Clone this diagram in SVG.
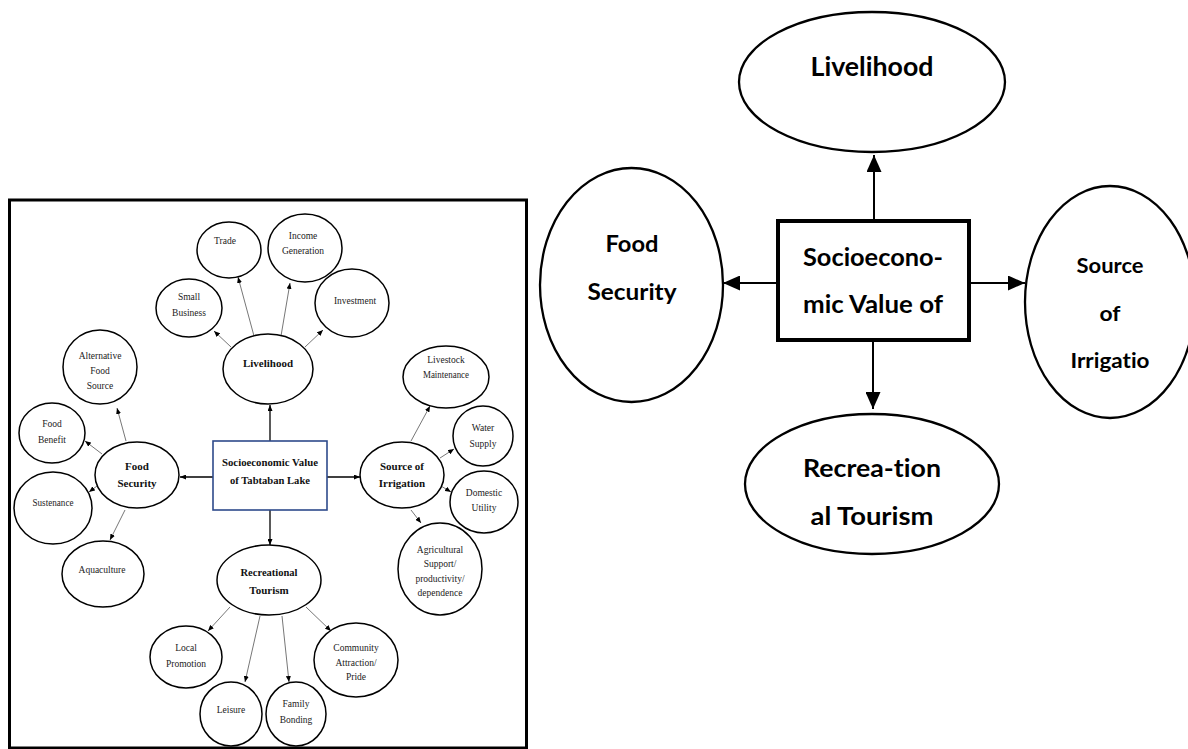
<svg xmlns="http://www.w3.org/2000/svg" width="1188" height="749" viewBox="0 0 1188 749">
<defs>
<style>
.frame{fill:none;stroke:#000;stroke-width:3}
.sn{fill:#fff;stroke:#000;stroke-width:1.5}
.cbox{fill:#fff;stroke:#2E4A8B;stroke-width:1.6}
.t{font-family:"Liberation Serif","Times New Roman",serif;font-size:9.5px;fill:#222;text-anchor:middle}
.tb{font-family:"Liberation Serif","Times New Roman",serif;font-size:11px;font-weight:bold;fill:#111;text-anchor:middle}
.ml{stroke:#000;stroke-width:1.3;fill:none}
.sl{stroke:#777;stroke-width:1;fill:none}
.gl{stroke:#bbb;stroke-width:1.5;fill:none}
.bn{fill:#fff;stroke:#000;stroke-width:2.3}
.bbox{fill:#fff;stroke:#000;stroke-width:4}
.bt{font-family:Lato,"Open Sans","Liberation Sans",sans-serif;font-weight:bold;fill:#000;text-anchor:middle;font-variant-ligatures:none;font-feature-settings:"liga" 0,"dlig" 0}
.bl{stroke:#000;stroke-width:2;fill:none}
</style>
<marker id="ah" markerUnits="userSpaceOnUse" markerWidth="6" markerHeight="5" refX="6" refY="2.5" orient="auto"><path d="M0,0 L6,2.5 L0,5 z" fill="#000"/></marker>
<marker id="AH" markerUnits="userSpaceOnUse" markerWidth="17" markerHeight="15" refX="17" refY="7.5" orient="auto"><path d="M0,0 L17,7.5 L0,15 z" fill="#000"/></marker>
</defs>
<rect width="1188" height="749" fill="#fff"/>

<!-- LEFT DIAGRAM -->
<rect class="frame" x="9.5" y="200" width="517" height="548"/>

<g id="left-connectors">
<line class="ml" x1="270" y1="441" x2="270" y2="405" marker-end="url(#ah)"/>
<line class="ml" x1="213" y1="477" x2="180" y2="477" marker-end="url(#ah)"/>
<line class="ml" x1="327" y1="477" x2="360" y2="477" marker-end="url(#ah)"/>
<line class="ml" x1="270" y1="510" x2="270" y2="545" marker-end="url(#ah)"/>
<line class="sl" x1="231" y1="347" x2="214" y2="331" marker-end="url(#ah)"/>
<line class="sl" x1="254" y1="336" x2="238" y2="277" marker-end="url(#ah)"/>
<line class="sl" x1="281" y1="336" x2="290" y2="283" marker-end="url(#ah)"/>
<line class="sl" x1="305" y1="347" x2="323" y2="330" marker-end="url(#ah)"/>
<line class="sl" x1="126" y1="441" x2="117" y2="408" marker-end="url(#ah)"/>
<line class="sl" x1="102" y1="454" x2="85" y2="441" marker-end="url(#ah)"/>
<line class="sl" x1="97" y1="486" x2="89" y2="492" marker-end="url(#ah)"/>
<line class="sl" x1="125" y1="510" x2="110" y2="540" marker-end="url(#ah)"/>
<line class="sl" x1="411" y1="441" x2="430" y2="406" marker-end="url(#ah)"/>
<line class="sl" x1="440" y1="458" x2="454" y2="449" marker-end="url(#ah)"/>
<line class="sl" x1="441" y1="486" x2="451" y2="492" marker-end="url(#ah)"/>
<line class="sl" x1="411" y1="510" x2="421" y2="523" marker-end="url(#ah)"/>
<line class="sl" x1="230" y1="607" x2="208" y2="631" marker-end="url(#ah)"/>
<line class="sl" x1="260" y1="616" x2="245" y2="682" marker-end="url(#ah)"/>
<line class="sl" x1="282" y1="616" x2="289" y2="682" marker-end="url(#ah)"/>
<line class="sl" x1="306" y1="607" x2="331" y2="631" marker-end="url(#ah)"/>
<line class="gl" x1="94" y1="542" x2="94" y2="558"/>
</g>

<g id="l-central"><rect class="cbox" x="213" y="441" width="114" height="69"/>
<text class="tb" x="270" y="466" textLength="96" lengthAdjust="spacingAndGlyphs">Socioeconomic Value</text>
<text class="tb" x="270" y="484" textLength="80" lengthAdjust="spacingAndGlyphs">of Tabtaban Lake</text></g>

<g id="l-livelihood"><ellipse class="sn" cx="268" cy="369" rx="45" ry="35"/><text class="tb" x="268" y="367" textLength="50" lengthAdjust="spacingAndGlyphs">Livelihood</text></g>
<g id="l-trade"><ellipse class="sn" cx="229" cy="250" rx="32" ry="28"/><text class="t" x="225" y="244">Trade</text></g>
<g id="l-income"><ellipse class="sn" cx="305" cy="248" rx="37" ry="34"/><text class="t" x="303" y="239">Income</text><text class="t" x="303" y="254">Generation</text></g>
<g id="l-investment"><ellipse class="sn" cx="352" cy="303" rx="37" ry="34"/><text class="t" x="355" y="304">Investment</text></g>
<g id="l-small"><ellipse class="sn" cx="189" cy="308" rx="33" ry="29"/><text class="t" x="189" y="300">Small</text><text class="t" x="189" y="316">Business</text></g>

<g id="l-food"><ellipse class="sn" cx="137" cy="475" rx="42" ry="33"/><text class="tb" x="137" y="470">Food</text><text class="tb" x="137" y="487">Security</text></g>
<g id="l-alt"><ellipse class="sn" cx="100" cy="367" rx="37" ry="37"/><text class="t" x="100" y="359">Alternative</text><text class="t" x="100" y="374">Food</text><text class="t" x="100" y="389">Source</text></g>
<g id="l-benefit"><ellipse class="sn" cx="52" cy="433" rx="33" ry="30"/><text class="t" x="52" y="427">Food</text><text class="t" x="52" y="443">Benefit</text></g>
<g id="l-sustenance"><ellipse class="sn" cx="53" cy="508" rx="39" ry="36"/><text class="t" x="53" y="506" textLength="41" lengthAdjust="spacingAndGlyphs">Sustenance</text></g>
<g id="l-aquaculture"><ellipse class="sn" cx="103" cy="574" rx="41" ry="33"/><text class="t" x="102" y="573">Aquaculture</text></g>

<g id="l-source"><ellipse class="sn" cx="402" cy="475" rx="42" ry="33"/><text class="tb" x="402" y="470">Source of</text><text class="tb" x="402" y="487">Irrigation</text></g>
<g id="l-livestock"><ellipse class="sn" cx="446" cy="377" rx="43" ry="31"/><text class="t" x="446" y="363">Livestock</text><text class="t" x="446" y="378" textLength="46" lengthAdjust="spacingAndGlyphs">Maintenance</text></g>
<g id="l-water"><ellipse class="sn" cx="483" cy="436" rx="30" ry="30"/><text class="t" x="483" y="431">Water</text><text class="t" x="483" y="447">Supply</text></g>
<g id="l-domestic"><ellipse class="sn" cx="484" cy="502" rx="34" ry="31"/><text class="t" x="484" y="496">Domestic</text><text class="t" x="484" y="511">Utility</text></g>
<g id="l-agri"><ellipse class="sn" cx="440" cy="569" rx="42" ry="46"/><text class="t" x="440" y="553">Agricultural</text><text class="t" x="440" y="567">Support/</text><text class="t" x="440" y="582">productivity/</text><text class="t" x="440" y="596">dependence</text></g>

<g id="l-recreational"><ellipse class="sn" cx="269" cy="580" rx="52" ry="35"/><text class="tb" x="269" y="576" textLength="57" lengthAdjust="spacingAndGlyphs">Recreational</text><text class="tb" x="269" y="594">Tourism</text></g>
<g id="l-local"><ellipse class="sn" cx="186" cy="657" rx="36" ry="31"/><text class="t" x="186" y="651">Local</text><text class="t" x="186" y="667">Promotion</text></g>
<g id="l-leisure"><ellipse class="sn" cx="231" cy="714" rx="31" ry="32"/><text class="t" x="231" y="713">Leisure</text></g>
<g id="l-family"><ellipse class="sn" cx="296" cy="714" rx="30" ry="32"/><text class="t" x="296" y="707">Family</text><text class="t" x="296" y="723">Bonding</text></g>
<g id="l-community"><ellipse class="sn" cx="356" cy="660" rx="42" ry="37"/><text class="t" x="356" y="651">Community</text><text class="t" x="356" y="666">Attraction/</text><text class="t" x="356" y="680">Pride</text></g>

<!-- RIGHT DIAGRAM -->
<g id="connectors">
<line class="bl" x1="874" y1="219" x2="874" y2="155" marker-end="url(#AH)"/>
<line class="bl" x1="776" y1="283" x2="723" y2="283" marker-end="url(#AH)"/>
<line class="bl" x1="971" y1="283" x2="1025" y2="283" marker-end="url(#AH)"/>
<line class="bl" x1="873" y1="342" x2="873" y2="409" marker-end="url(#AH)"/>
</g>

<g id="livelihood"><ellipse class="bn" cx="872" cy="82" rx="133" ry="70"/><text class="bt" x="872" y="76" font-size="26" textLength="123" lengthAdjust="spacingAndGlyphs">Livelihood</text></g>
<g id="central"><rect class="bbox" x="778" y="221" width="191" height="119"/>
<text class="bt" x="873" y="266" font-size="25" textLength="140" lengthAdjust="spacingAndGlyphs">Socioecono-</text>
<text class="bt" x="873" y="313" font-size="25" textLength="140" lengthAdjust="spacingAndGlyphs">mic Value of</text></g>
<g id="food-security"><ellipse class="bn" cx="631.5" cy="285" rx="91.5" ry="117"/><text class="bt" x="632" y="252" font-size="22" textLength="53" lengthAdjust="spacingAndGlyphs">Food</text><text class="bt" x="632" y="300" font-size="22" textLength="89" lengthAdjust="spacingAndGlyphs">Security</text></g>
<g id="source-irrigation"><ellipse class="bn" cx="1110" cy="302" rx="85" ry="116"/><text class="bt" x="1110" y="273" font-size="21" textLength="67" lengthAdjust="spacingAndGlyphs">Source</text><text class="bt" x="1110" y="321" font-size="21" textLength="21" lengthAdjust="spacingAndGlyphs">of</text><text class="bt" x="1110" y="368" font-size="21" textLength="79" lengthAdjust="spacingAndGlyphs">Irrigatio</text></g>
<g id="recreational-tourism"><ellipse class="bn" cx="872" cy="484" rx="127" ry="70"/><text class="bt" x="872" y="477" font-size="24" textLength="138" lengthAdjust="spacingAndGlyphs">Recrea-tion</text><text class="bt" x="872" y="525" font-size="24" textLength="123" lengthAdjust="spacingAndGlyphs">al Tourism</text></g>
</svg>
